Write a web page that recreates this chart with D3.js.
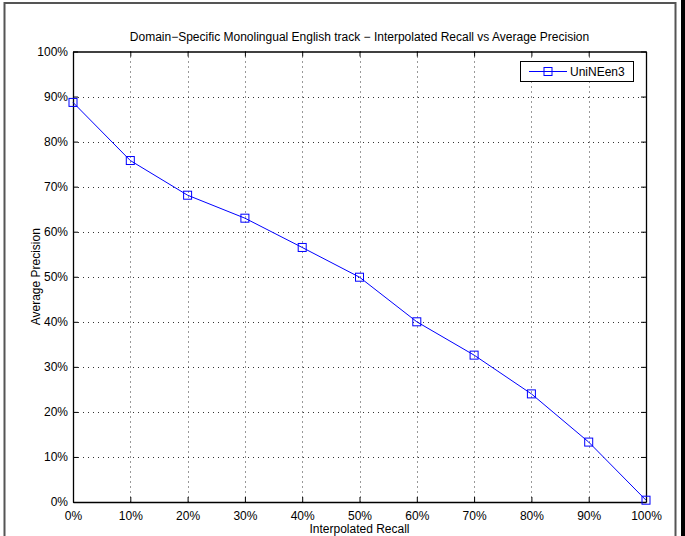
<!DOCTYPE html>
<html><head><meta charset="utf-8">
<script src="https://cdn.jsdelivr.net/npm/d3@7"></script>
<style>body{margin:0;background:#fff;} svg{display:block;font-family:"Liberation Sans",Arial,Helvetica,sans-serif;}</style>
</head><body>
<script>
const recall = [0, 10, 20, 30, 40, 50, 60, 70, 80, 90, 100];
const precision = [88.7, 75.8, 68.1, 63.0, 56.5, 49.9, 40.0, 32.6, 24.0, 13.3, 0.4];
const xTicks = [0, 10, 20, 30, 40, 50, 60, 70, 80, 90, 100];
const yTicks = [0, 10, 20, 30, 40, 50, 60, 70, 80, 90, 100];
const seriesName = "UniNEen3";
const title = "Domain\u2212Specific Monolingual English track \u2212 Interpolated Recall vs Average Precision";
const xLabel = "Interpolated Recall";
const yLabel = "Average Precision";

const W = 685, H = 536;
const L = 73, R = 646, T = 51.5, B = 502;
const svg = d3.select("body").append("svg").attr("width", W).attr("height", H);

// outer frame
svg.append("rect").attr("x", 4.5).attr("y", 3).attr("width", 671).attr("height", 560)
  .attr("fill", "none").attr("stroke", "#555").attr("stroke-width", 2);
svg.append("rect").attr("x", 681).attr("y", 0).attr("width", 4).attr("height", H).attr("fill", "#000");

const x = d3.scaleLinear().domain([0, 100]).range([L, R]);
const y = d3.scaleLinear().domain([0, 100]).range([B, T]);
const fmt = d => d + "%";

// grid
const g = svg.append("g");
g.selectAll(".gx").data(xTicks.filter(d => d > 0 && d < 100)).enter().append("line")
  .attr("x1", d => Math.round(x(d)) + 0.5).attr("x2", d => Math.round(x(d)) + 0.5)
  .attr("y1", T).attr("y2", B)
  .attr("stroke", "#333").attr("stroke-width", 1).attr("stroke-dasharray", "1,4");
g.selectAll(".gy").data(yTicks.filter(d => d > 0 && d < 100)).enter().append("line")
  .attr("y1", d => Math.round(y(d)) + 0.5).attr("y2", d => Math.round(y(d)) + 0.5)
  .attr("x1", L).attr("x2", R)
  .attr("stroke", "#333").attr("stroke-width", 1).attr("stroke-dasharray", "1,4");

// axes
const axB = d3.axisBottom(x).tickValues(xTicks).tickFormat(fmt).tickSizeInner(-5).tickSizeOuter(0).tickPadding(9);
const axT = d3.axisTop(x).tickValues(xTicks).tickFormat("").tickSizeInner(-5).tickSizeOuter(0);
const axL = d3.axisLeft(y).tickValues(yTicks).tickFormat(fmt).tickSizeInner(-5).tickSizeOuter(0).tickPadding(5);
const axR = d3.axisRight(y).tickValues(yTicks).tickFormat("").tickSizeInner(-5).tickSizeOuter(0);
function style(sel){
  sel.selectAll("path").attr("stroke", "#000").attr("stroke-width", 1.3);
  sel.selectAll("line").attr("stroke", "#000").attr("stroke-width", 1);
  sel.selectAll("text").attr("fill", "#000").style("font-size", "12px").style("font-family", "Liberation Sans, Arial, sans-serif");
}
svg.append("g").attr("transform", `translate(0,${B})`).call(axB).call(style);
svg.append("g").attr("transform", `translate(0,${T})`).call(axT).call(style);
svg.append("g").attr("transform", `translate(${L},0)`).call(axL).call(style);
svg.append("g").attr("transform", `translate(${R},0)`).call(axR).call(style);

// series
const line = d3.line().x((d, i) => x(recall[i])).y(d => y(d));
svg.append("path").datum(precision).attr("d", line).attr("fill", "none").attr("stroke", "#0000ff").attr("stroke-width", 1);
svg.selectAll(".mk").data(precision).enter().append("rect")
  .attr("x", (d, i) => x(recall[i]) - 4).attr("y", d => y(d) - 4)
  .attr("width", 8).attr("height", 8).attr("fill", "none").attr("stroke", "#0000ff").attr("stroke-width", 1);

// title & labels
svg.append("text").attr("x", (L + R) / 2).attr("y", 41).attr("text-anchor", "middle")
  .style("font-size", "12px").text(title);
svg.append("text").attr("x", (L + R) / 2).attr("y", 533).attr("text-anchor", "middle")
  .style("font-size", "12px").text(xLabel);
svg.append("text").attr("transform", `translate(40,${(T + B) / 2}) rotate(-90)`).attr("text-anchor", "middle")
  .style("font-size", "12px").text(yLabel);

// legend
const lg = svg.append("g");
lg.append("rect").attr("x", 520.5).attr("y", 61.5).attr("width", 113).attr("height", 20)
  .attr("fill", "#fff").attr("stroke", "#000").attr("stroke-width", 1);
lg.append("line").attr("x1", 529).attr("x2", 567).attr("y1", 71.5).attr("y2", 71.5).attr("stroke", "#0000ff");
lg.append("rect").attr("x", 544).attr("y", 67.5).attr("width", 8).attr("height", 8).attr("fill", "none").attr("stroke", "#0000ff");
lg.append("text").attr("x", 570).attr("y", 76).style("font-size", "12px").text(seriesName);
</script>
</body></html>
